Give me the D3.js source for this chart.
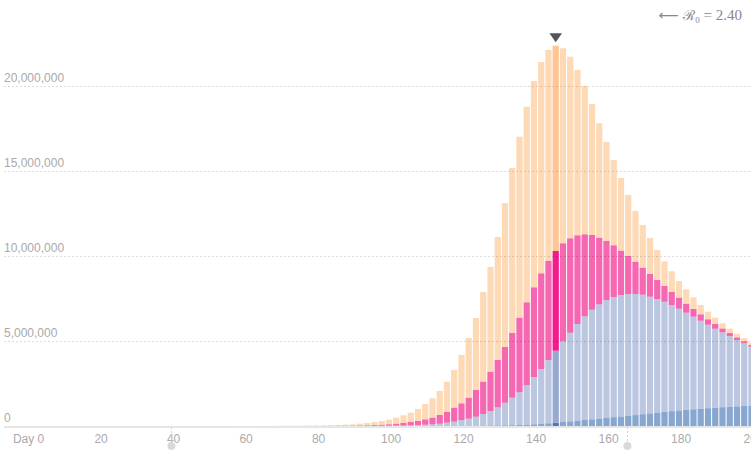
<!DOCTYPE html>
<html><head><meta charset="utf-8">
<script src="https://cdn.jsdelivr.net/npm/d3@7"></script>
<style>body{margin:0;background:#fff;} svg{display:block;}</style>
</head><body><svg id="chart" width="751" height="455"></svg>
<script>
// Day index of each bar (one bar per 2 days)
const days = [0,2,4,6,8,10,12,14,16,18,20,22,24,26,28,30,32,34,36,38,40,42,44,46,48,50,52,54,56,58,
  60,62,64,66,68,70,72,74,76,78,80,82,84,86,88,90,92,94,96,98,100,102,104,106,108,110,112,114,116,118,
  120,122,124,126,128,130,132,134,136,138,140,142,144,146,148,150,152,154,156,158,160,162,164,166,168,170,
  172,174,176,178,180,182,184,186,188,190,192,194,196,198];

// Values in millions of people
const exposed = [0.000001,0.000002,0.000002,0.000003,0.000004,0.000005,0.000007,0.000009,0.000012,0.000015,
  0.00002,0.000027,0.000035,0.000045,0.00006,0.00008,0.0001,0.00013,0.00017,0.00022,
  0.00028,0.00034,0.00042,0.00052,0.00065,0.0008,0.001,0.0012,0.0015,0.0019,
  0.0024,0.0029,0.0035,0.0047,0.0059,0.0076,0.010,0.0129,0.0165,0.0206,
  0.027,0.0353,0.0453,0.0588,0.0765,0.103,0.135,0.176,0.218,0.271,
  0.353,0.453,0.547,0.706,0.900,1.141,1.412,1.782,2.218,2.841,
  3.512,4.235,5.276,6.159,7.235,8.471,9.706,10.647,11.506,12.135,
  12.429,12.412,12.076,11.471,10.682,9.724,8.724,7.706,6.729,5.824,
  5.018,4.276,3.588,2.982,2.512,2.118,1.765,1.453,1.218,0.982,
  0.847,0.688,0.547,0.447,0.371,0.306,0.253,0.212,0.176,0.147];

const infectious = [0.0000003,0.0000005,0.0000005,0.0000008,0.000001,0.0000013,0.0000018,0.0000023,0.000003,0.000004,
  0.000005,0.000007,0.000009,0.000011,0.000015,0.00002,0.000025,0.000033,0.000043,0.000055,
  0.00007,0.000085,0.000105,0.00013,0.00016,0.0002,0.00025,0.0003,0.00038,0.00048,
  0.0006,0.0007,0.0009,0.0012,0.0015,0.0018,0.0024,0.0029,0.0041,0.0053,
  0.0065,0.0088,0.011,0.015,0.019,0.026,0.035,0.047,0.059,0.082,
  0.112,0.147,0.194,0.235,0.318,0.388,0.512,0.629,0.824,0.982,
  1.235,1.571,1.900,2.312,2.782,3.276,3.806,4.388,4.865,5.276,
  5.629,5.824,5.865,5.765,5.553,5.218,4.824,4.394,3.918,3.471,
  3.041,2.606,2.235,1.900,1.588,1.335,1.118,0.924,0.765,0.647,
  0.529,0.453,0.376,0.318,0.276,0.224,0.182,0.153,0.124,0.100];

const hospitalized = [0,0,0,0,0,0.0000001,0.0000002,0.0000003,0.0000004,0.0000005,
  0.0000007,0.000001,0.0000013,0.0000017,0.0000022,0.000003,0.000004,0.000005,0.000007,0.000009,
  0.000012,0.000015,0.000019,0.000024,0.00003,0.000037,0.000046,0.000057,0.00007,0.000085,
  0.0001,0.00015,0.0002,0.0003,0.0004,0.0005,0.0006,0.0008,0.001,0.0013,
  0.0018,0.0022,0.0027,0.0035,0.0045,0.006,0.008,0.011,0.015,0.019,
  0.024,0.029,0.041,0.059,0.071,0.094,0.129,0.188,0.247,0.341,
  0.418,0.529,0.682,0.853,1.065,1.329,1.618,1.924,2.335,2.782,
  3.224,3.724,4.235,4.747,5.212,5.688,6.100,6.447,6.724,6.935,
  7.071,7.147,7.165,7.124,7.029,6.865,6.682,6.482,6.247,5.988,
  5.718,5.447,5.176,4.912,4.647,4.406,4.165,3.906,3.688,3.471];

const fatalities = [0,0,0,0,0,0,0,0,0,0,
  0,0,0,0,0,0,0,0,0,0,
  0,0,0,0,0,0,0,0,0,0,
  0.000002,0.000003,0.000004,0.000006,0.000008,0.00001,0.000014,0.000019,0.000025,0.000033,
  0.000045,0.00006,0.00008,0.0001,0.00014,0.00019,0.00025,0.00033,0.00045,0.0006,
  0.001,0.0015,0.002,0.003,0.004,0.005,0.006,0.008,0.009,0.011,
  0.013,0.018,0.024,0.029,0.035,0.041,0.047,0.059,0.076,0.1,
  0.129,0.159,0.194,0.235,0.276,0.312,0.353,0.394,0.435,0.476,
  0.518,0.559,0.6,0.641,0.694,0.741,0.788,0.829,0.871,0.912,
  0.947,0.982,1.018,1.047,1.076,1.106,1.129,1.153,1.176,1.194];

const xTicks = [0,20,40,60,80,100,120,140,160,180,200];
const yTicks = [0,5,10,15,20];
const interventionDays = [39.4, 165.2];
const peakDay = 144;
const r0Label = "2.40";

const svg = d3.select("#chart");
const W = 751;
const x = d3.scaleLinear().domain([0, 200]).range([28.6, 753.6]);
const y = d3.scaleLinear().domain([0, 20]).range([426, 86]);

const keys = ["fatalities","hospitalized","infectious","exposed"];
const colors = {fatalities:"#386cb0", hospitalized:"#8da0cb", infectious:"#f0027f", exposed:"#fdc086"};
const rows = days.map((d,i)=>({day:d, fatalities:fatalities[i], hospitalized:hospitalized[i], infectious:infectious[i], exposed:exposed[i]}));
const stacked = d3.stack().keys(keys)(rows);
const barW = x(2) - x(0) - 1;

// baseline
svg.append("line").attr("x1",4).attr("x2",W).attr("y1",427).attr("y2",427)
  .attr("stroke","#e6e6e6").attr("stroke-width",2);

const bars = svg.append("g");
stacked.forEach(layer=>{
  bars.append("g").selectAll("rect").data(layer).join("rect")
    .attr("x", d=>x(d.data.day)+2)
    .attr("width", barW)
    .attr("y", d=>y(d[1]))
    .attr("height", d=>Math.max(0, y(d[0])-y(d[1])))
    .attr("fill", colors[layer.key])
    .attr("fill-opacity", d=>d.data.day===peakDay?0.9:0.6);
});

// grid lines
const fmt = d3.format(",");
svg.append("g").selectAll("line").data(yTicks.filter(v=>v>0)).join("line")
  .attr("x1",4).attr("x2",W)
  .attr("y1",d=>Math.round(y(d))+0.5).attr("y2",d=>Math.round(y(d))+0.5)
  .attr("stroke","#000").attr("stroke-opacity",0.13).attr("stroke-dasharray","2,2");

svg.append("g").selectAll("text").data(yTicks).join("text")
  .attr("x",4).attr("y",d=>y(d)-4)
  .attr("font-family","Liberation Sans, Arial, sans-serif").attr("font-size",12)
  .attr("fill","#aaa").text(d=>fmt(d*1e6));

// x ticks
svg.append("g").selectAll("text").data(xTicks).join("text")
  .attr("x",d=>x(d)).attr("y",443).attr("text-anchor","middle")
  .attr("font-family","Liberation Sans, Arial, sans-serif").attr("font-size",12)
  .attr("fill","#aaa").text(d=>d===0?"Day 0":d);

// intervention markers
const mk = svg.append("g");
mk.selectAll("line").data(interventionDays).join("line")
  .attr("x1",d=>x(d)).attr("x2",d=>x(d)).attr("y1",427).attr("y2",442)
  .attr("stroke","#d0d0d0").attr("stroke-dasharray","2,2");
mk.selectAll("circle").data(interventionDays).join("circle")
  .attr("cx",d=>x(d)).attr("cy",446).attr("r",4).attr("fill","#d9d9d9");

// peak triangle
const peakRow = rows.find(r=>r.day===peakDay);
const peakTotal = keys.reduce((s,k)=>s+peakRow[k],0);
const cx = x(peakDay)+2+barW/2;
const tip = y(peakTotal)-3.5;
svg.append("path").attr("d",`M${cx-6.3},${tip-9}L${cx+6.3},${tip-9}L${cx},${tip}Z`).attr("fill","#555");

// R0 label
const t = svg.append("text").attr("x",742).attr("y",20).attr("text-anchor","end")
  .attr("font-family","Liberation Serif, Times New Roman, serif").attr("font-size",15).attr("fill","#888");
t.append("tspan").attr("font-family","DejaVu Sans").attr("font-size",14).text("⟵ ");
t.append("tspan").attr("font-family","DejaVu Serif").attr("font-size",14).text("ℛ");
t.append("tspan").attr("font-size",9).attr("dy",3).text("0");
t.append("tspan").attr("dy",-3).text(" = " + r0Label);
</script>
</body></html>
